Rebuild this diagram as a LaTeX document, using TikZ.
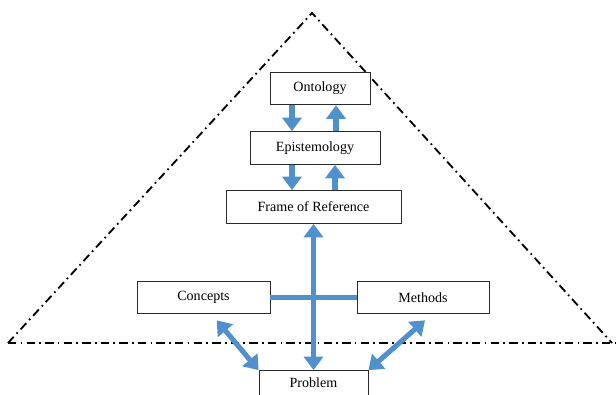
\documentclass[tikz,border=0pt]{standalone}
\usepackage{fontspec}
\setmainfont{Liberation Serif}
\usetikzlibrary{arrows.meta,positioning,calc}
\definecolor{FlowBlue}{HTML}{5090CC}
\definecolor{BoxInk}{HTML}{2A2A2A}

\begin{document}
\begin{tikzpicture}[x=0.025cm,y=-0.025cm,
    box/.style={draw=BoxInk,line width=0.6pt,fill=white,inner sep=0pt,
                minimum height=0.82cm,font=\fontsize{10}{12}\selectfont},
    flow/.style={FlowBlue,line width=3.6pt},
    tip/.style={-{Triangle[width=0.48cm,length=0.34cm]}},
    dtip/.style={{Triangle[width=0.48cm,length=0.34cm]}-{Triangle[width=0.48cm,length=0.34cm]}},
    edge/.style={black,line width=1.3pt,dash pattern=on 6pt off 3pt on 1.2pt off 3pt}]
  \useasboundingbox (0,0) rectangle (616,394);

  % dash-dot triangle and base line
  \draw[edge] (8,343) -- (312,13) -- (612,343);
  \draw[edge] (8,343) -- (616,343);

  % boxes
  \node[box,minimum width=2.5cm] (onto) at (320,88.5) {Ontology};
  \node[box,minimum width=3.25cm] (epis) at (315,148) {Epistemology};
  \node[box,minimum width=4.375cm] (frame) at (313.5,207) {Frame of Reference};
  \node[box,minimum width=3.325cm] (conc) at (203.5,297.5) {Concepts};
  \node[box,minimum width=3.3cm] (meth) at (423,297.5) {Methods};
  \node[box,minimum width=2.725cm,text height=0.22cm,text depth=0.2cm] (prob) at (313.5,387) {Problem};

  % ontology <-> epistemology
  \draw[flow,tip] ([xshift=-0.7cm]onto.south) -- ([xshift=-0.7cm]onto.south |- epis.north);
  \draw[flow,tip] ([xshift=0.4cm]onto.south |- epis.north) -- ([xshift=0.4cm]onto.south);

  % epistemology <-> frame
  \draw[flow,tip] ([xshift=-0.575cm]epis.south) -- ([xshift=-0.575cm]epis.south |- frame.north);
  \draw[flow,tip] ([xshift=0.5cm]epis.south |- frame.north) -- ([xshift=0.5cm]epis.south);

  % cross between concepts, methods, frame and problem
  \draw[flow] (conc.east) -- (meth.west);
  \draw[flow,dtip] (frame.south) -- (prob.north);
  \draw[flow,dtip] ([xshift=0.33cm,yshift=-0.15cm]conc.south) -- (prob.north west);
  \draw[flow,dtip] ([xshift=0.05cm,yshift=-0.15cm]meth.south) -- (prob.north east);
\end{tikzpicture}
\end{document}
